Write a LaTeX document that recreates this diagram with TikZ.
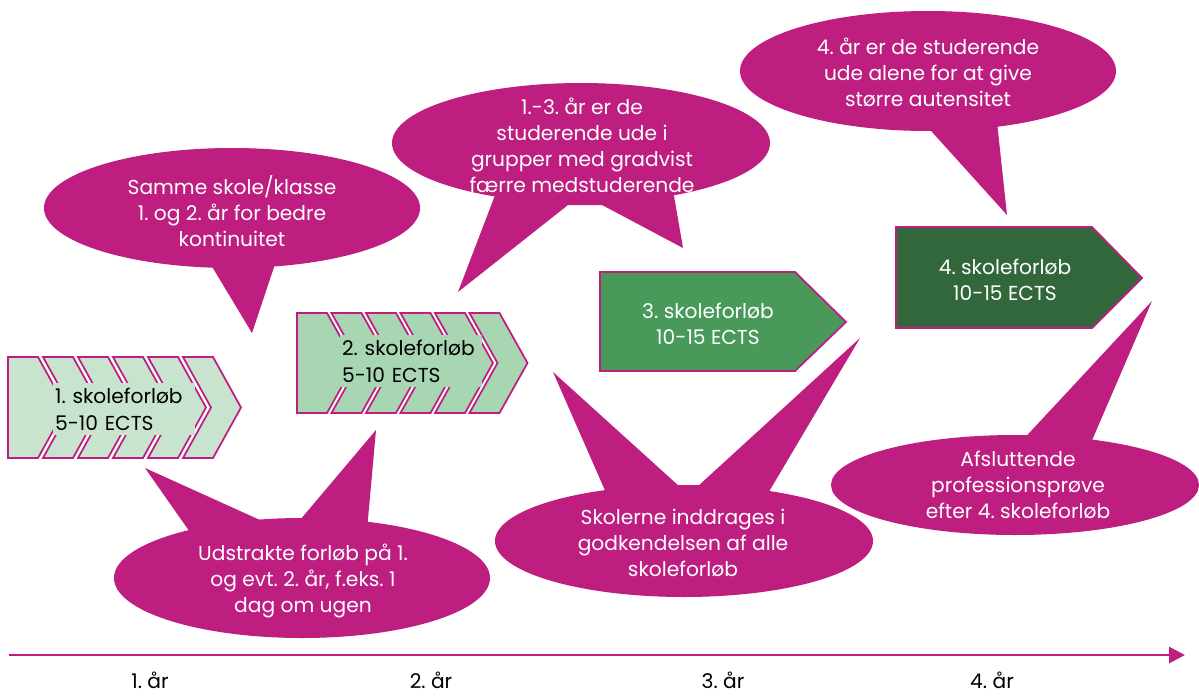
\documentclass[tikz,border=0pt]{standalone}
\usepackage{fontspec}
\setmainfont{Poppins}
\usepackage[dvipsnames]{xcolor}
\usetikzlibrary{arrows.meta}

\definecolor{boble}{RGB}{190,30,128}
\definecolor{lysgroen}{RGB}{200,228,206}
\definecolor{mellemgroen}{RGB}{168,213,178}
\definecolor{groen}{RGB}{73,153,91}
\definecolor{moerkgroen}{RGB}{50,103,60}

\begin{document}
\begin{tikzpicture}[
            x=0.02cm, y=-0.02cm,
            font=\fontsize{11.5}{14.8}\selectfont\frenchspacing,
            taleboble/.style={fill=boble},
            bobletekst/.style={text=white, align=center, inner sep=0pt},
            chevron/.style={draw=boble, line width=1pt},
            forloebtekst/.style={align=left, inner sep=1pt, text width=2.76cm, minimum height=1.04cm, anchor=north west},
            blokktekst/.style={text=white, align=center, inner sep=0pt},
            tidslinje/.style={-{Triangle[length=9pt, width=9pt]}, line width=1.6pt, draw=boble},
        ]
            \useasboundingbox (0,0) rectangle (1199,696);

            % --- 1. skoleforløb: seks pile ---
            \foreach \i in {0,...,5} {
                \pgfmathsetmacro{\hak}{ifthenelse(\i==0,0,28)}
                \filldraw[chevron, fill=lysgroen] ({8+35*\i},357) -- ++(30,0) -- ++(28,50.5)
                    -- ++(-28,50.5) -- ++(-30,0) -- ++(\hak,-50.5) -- cycle;
            }
            \node[forloebtekst, fill=lysgroen] (forloebA) at (53,383) {1. skoleforløb\\5-10 ECTS};

            % --- 2. skoleforløb: seks pile ---
            \foreach \i in {0,...,5} {
                \pgfmathsetmacro{\hak}{ifthenelse(\i==0,0,28)}
                \filldraw[chevron, fill=mellemgroen] ({297+34.5*\i},313) -- ++(30,0) -- ++(28,50)
                    -- ++(-28,50) -- ++(-30,0) -- ++(\hak,-50) -- cycle;
            }
            \node[forloebtekst, fill=mellemgroen] (forloebB) at (340,335) {2. skoleforløb\\5-10 ECTS};

            % --- 3. og 4. skoleforløb ---
            \filldraw[chevron, fill=groen] (600,272) -- (795,272) -- (846,322) -- (795,371) -- (600,371) -- cycle;
            \node[blokktekst] (forloebC) at (708,324) {3. skoleforløb\\10-15 ECTS};
            \filldraw[chevron, fill=moerkgroen] (896,227) -- (1092,227) -- (1142,278) -- (1092,328) -- (896,328) -- cycle;
            \node[blokktekst] (forloebD) at (1005,280) {4. skoleforløb\\10-15 ECTS};

            % --- Talebobler over pilene ---
            \fill[taleboble] (232,208) ellipse [x radius=188, y radius=60];
            \fill[taleboble] (205,255) -- (252,333) -- (278,255) -- cycle;
            \node[bobletekst] (samme) at (232,211) {Samme skole/klasse\\1. og 2. år for bedre\\kontinuitet};

            \fill[taleboble] (581,143) ellipse [x radius=189, y radius=60];
            \fill[taleboble] (497,190) -- (458,292) -- (568,205) -- (602,205) -- (683,248) -- (673,190) -- cycle;
            \node[bobletekst] (grupper) at (582,145) {1.-3. år er de\\studerende ude i\\grupper med gradvist\\færre medstuderende};

            \fill[taleboble] (928,71) ellipse [x radius=188, y radius=60];
            \fill[taleboble] (923,122) -- (1007,215) -- (997,122) -- cycle;
            \node[bobletekst] (alene) at (928,72) {4. år er de studerende\\ude alene for at give\\større autensitet};

            % --- Talebobler under pilene ---
            \fill[taleboble] (302,578) ellipse [x radius=188, y radius=60];
            \fill[taleboble] (192,535) -- (145,468) -- (260,520) -- (300,520) -- (376,430) -- (367,530) -- cycle;
            \node[bobletekst] (udstrakte) at (303,581) {Udstrakte forløb på 1.\\og evt. 2. år, f.eks. 1\\dag om ugen};

            \fill[taleboble] (684,541) ellipse [x radius=189, y radius=56];
            \fill[taleboble] (607,495) -- (553,372) -- (680,487) -- (697,487) -- (860,338) -- (767,495) -- cycle;
            \node[bobletekst] (skolerne) at (683,543) {Skolerne inddrages i\\godkendelsen af alle\\skoleforløb};

            \fill[taleboble] (1015,485) ellipse [x radius=184, y radius=50];
            \fill[taleboble] (1018,445) -- (1152,301) -- (1090,445) -- cycle;
            \node[bobletekst] (afsluttende) at (1018,485) {Afsluttende\\professionsprøve\\efter 4. skoleforløb};

            % --- Tidslinje ---
            \coordinate (start) at (9,655);
            \coordinate (slut) at (1185,655);
            \draw[tidslinje] (start) -- (slut);
            \foreach \aar/\x in {1/150, 2/431, 3/723, 4/992} {
                \node[inner sep=1pt] (aar\aar) at (\x,680) {\aar. år};
            }
        \end{tikzpicture}
\end{document}
